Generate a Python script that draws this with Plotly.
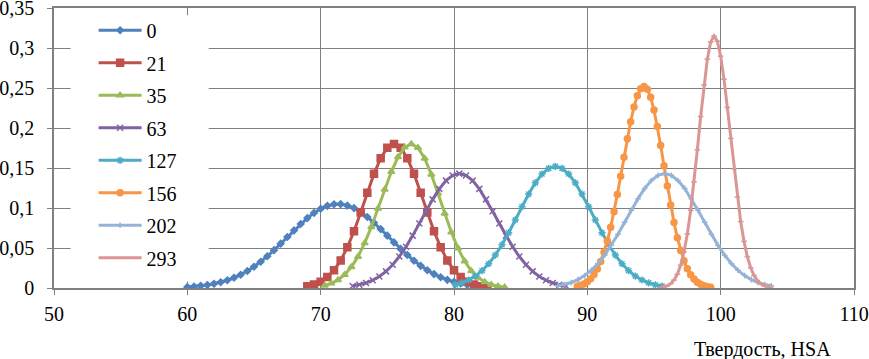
import plotly.graph_objects as go

# ---------------- data ----------------
names = ["0", "21", "35", "63", "127", "156", "202", "293"]

x_0 = [60, 60.5, 61, 61.5, 62, 62.5, 63, 63.5, 64, 64.5, 65, 65.5, 66, 66.5, 67, 67.5,
       68, 68.5, 69, 69.5, 70, 70.5, 71, 71.5, 72, 72.5, 73, 73.5, 74, 74.5, 75, 75.5,
       76, 76.5, 77, 77.5, 78, 78.5, 79, 79.5, 80, 80.5, 81, 81.5, 82, 82.5]
y_0 = [0.0013, 0.0019, 0.0027, 0.0038, 0.0053, 0.0072, 0.0097, 0.0128, 0.0166, 0.0212,
       0.0266, 0.0328, 0.0397, 0.0473, 0.0554, 0.0637, 0.0720, 0.0800, 0.0874, 0.0939,
       0.0990, 0.1027, 0.1047, 0.1049, 0.1032, 0.0999, 0.0950, 0.0888, 0.0816, 0.0736,
       0.0654, 0.0570, 0.0489, 0.0412, 0.0341, 0.0277, 0.0222, 0.0174, 0.0135, 0.0102,
       0.0076, 0.0056, 0.0040, 0.0029, 0.0020, 0.0014]

x_21 = [69, 69.5, 70, 70.5, 71, 71.5, 72, 72.5, 73, 73.5, 74, 74.5, 75, 75.5, 76, 76.5,
        77, 77.5, 78, 78.5, 79, 79.5, 80, 80.5, 81, 81.5, 82, 82.5]
y_21 = [0.0023, 0.0044, 0.0079, 0.0136, 0.0222, 0.0345, 0.0508, 0.0710, 0.0944, 0.1191,
        0.1427, 0.1623, 0.1754, 0.1800, 0.1754, 0.1623, 0.1427, 0.1191, 0.0944, 0.0710,
        0.0508, 0.0345, 0.0222, 0.0136, 0.0079, 0.0044, 0.0023, 0.0011]

x_35 = [70.3, 70.8, 71.3, 71.8, 72.3, 72.8, 73.3, 73.8, 74.3, 74.8, 75.3, 75.8, 76.3, 76.8,
        77.3, 77.8, 78.3, 78.8, 79.3, 79.8, 80.3, 80.8, 81.3, 81.8, 82.3, 82.8, 83.3, 83.8]
y_35 = [0.0032, 0.0058, 0.0101, 0.0166, 0.0262, 0.0392, 0.0561, 0.0764, 0.0993, 0.1230,
        0.1453, 0.1637, 0.1758, 0.1800, 0.1753, 0.1620, 0.1420, 0.1182, 0.0932, 0.0698,
        0.0496, 0.0334, 0.0213, 0.0130, 0.0075, 0.0041, 0.0021, 0.0010]

x_63 = [72.4, 72.9, 73.4, 73.9, 74.4, 74.9, 75.4, 75.9, 76.4, 76.9, 77.4, 77.9, 78.4, 78.9,
        79.4, 79.9, 80.4, 80.9, 81.4, 81.9, 82.4, 82.9, 83.4, 83.9, 84.4, 84.9, 85.4, 85.9,
        86.4, 86.9, 87.4, 87.9, 88.4]
y_63 = [0.0024, 0.0040, 0.0063, 0.0097, 0.0144, 0.0208, 0.0290, 0.0393, 0.0515, 0.0655,
        0.0806, 0.0960, 0.1108, 0.1239, 0.1342, 0.1407, 0.1430, 0.1407, 0.1342, 0.1239,
        0.1108, 0.0960, 0.0806, 0.0655, 0.0515, 0.0393, 0.0290, 0.0208, 0.0144, 0.0097,
        0.0063, 0.0040, 0.0024]

x_127 = [80.1, 80.6, 81.1, 81.6, 82.1, 82.6, 83.1, 83.6, 84.1, 84.6, 85.1, 85.6, 86.1, 86.6,
         87.1, 87.6, 88.1, 88.6, 89.1, 89.6, 90.1, 90.6, 91.1, 91.6, 92.1, 92.6, 93.1, 93.6,
         94.1, 94.6, 95.1, 95.6]
y_127 = [0.0040, 0.0064, 0.0100, 0.0149, 0.0216, 0.0303, 0.0412, 0.0541, 0.0690, 0.0851,
         0.1016, 0.1174, 0.1315, 0.1425, 0.1496, 0.1520, 0.1496, 0.1425, 0.1315, 0.1174,
         0.1016, 0.0851, 0.0690, 0.0541, 0.0412, 0.0303, 0.0216, 0.0149, 0.0100, 0.0064,
         0.0040, 0.0024]

x_156 = [89.25, 89.5, 89.75, 90, 90.25, 90.5, 90.75, 91, 91.25, 91.5, 91.75, 92, 92.25, 92.5,
         92.75, 93, 93.25, 93.5, 93.75, 94, 94.25, 94.5, 94.75, 95, 95.25, 95.5, 95.75, 96,
         96.25, 96.5, 96.75, 97, 97.25, 97.5, 97.75, 98, 98.25, 98.5, 98.75, 99, 99.25]
y_156 = [0.0021, 0.0033, 0.0051, 0.0078, 0.0116, 0.0169, 0.0239, 0.0331, 0.0447, 0.0589,
         0.0758, 0.0952, 0.1168, 0.1398, 0.1635, 0.1866, 0.2079, 0.2262, 0.2402, 0.2490,
         0.2520, 0.2485, 0.2384, 0.2224, 0.2018, 0.1781, 0.1528, 0.1276, 0.1036, 0.0818,
         0.0628, 0.0469, 0.0341, 0.0241, 0.0166, 0.0111, 0.0072, 0.0046, 0.0028, 0.0017,
         0.0010]

x_202 = [87.8, 88.3, 88.8, 89.3, 89.8, 90.3, 90.8, 91.3, 91.8, 92.3, 92.8, 93.3, 93.8, 94.3,
         94.8, 95.3, 95.8, 96.3, 96.8, 97.3, 97.8, 98.3, 98.8, 99.3, 99.8, 100.3, 100.8,
         101.3, 101.8, 102.3, 102.8, 103.3, 103.8]
y_202 = [0.0027, 0.0044, 0.0069, 0.0105, 0.0155, 0.0221, 0.0306, 0.0410, 0.0533, 0.0671,
         0.0821, 0.0972, 0.1117, 0.1245, 0.1344, 0.1408, 0.1430, 0.1408, 0.1344, 0.1245,
         0.1117, 0.0972, 0.0821, 0.0671, 0.0533, 0.0410, 0.0306, 0.0221, 0.0155, 0.0105,
         0.0069, 0.0044, 0.0027]

x_293 = [95.5, 95.75, 96, 96.25, 96.5, 96.75, 97, 97.25, 97.5, 97.75, 98, 98.25, 98.5, 98.75,
         99, 99.25, 99.5, 99.75, 100, 100.25, 100.5, 100.75, 101, 101.25, 101.5, 101.75,
         102, 102.25, 102.5, 102.75, 103, 103.25, 103.5, 103.75]
y_293 = [0.0007, 0.0014, 0.0028, 0.0054, 0.0099, 0.0172, 0.0285, 0.0450, 0.0676, 0.0970,
         0.1326, 0.1727, 0.2144, 0.2537, 0.2861, 0.3075, 0.3150, 0.3085, 0.2898, 0.2611,
         0.2257, 0.1871, 0.1488, 0.1135, 0.0830, 0.0583, 0.0392, 0.0253, 0.0157, 0.0093,
         0.0053, 0.0029, 0.0015, 0.0008]

xs = [x_0, x_21, x_35, x_63, x_127, x_156, x_202, x_293]
ys = [y_0, y_21, y_35, y_63, y_127, y_156, y_202, y_293]

x_ticks = [50, 60, 70, 80, 90, 100, 110]
y_ticks = [0, 0.05, 0.1, 0.15, 0.2, 0.25, 0.3, 0.35]
x_title = "Твердость, HSA"

# ---------------- styles ----------------
colors = ["#4F81BD", "#C0504D", "#9BBB59", "#8064A2", "#4BACC6", "#F79646", "#95B3D7", "#D99694"]
symbols = ["diamond", "square", "triangle-up", "x-thin-open", "asterisk-open",
           "circle", "cross-thin-open", "line-ew-open"]
msizes = [5, 7, 6, 6, 6, 6, 4, 4]

FONT = "Liberation Serif"
GRID = "#808080"

fig = go.Figure()
for i, name in enumerate(names):
    fig.add_trace(go.Scatter(
        x=xs[i], y=ys[i], name=name, mode="lines+markers",
        legendgroup="g" + name,
        line=dict(color=colors[i], width=3),
        marker=dict(symbol=symbols[i], size=msizes[i], color=colors[i],
                    line=dict(color=colors[i], width=1.5)),
    ))

# white background behind the legend (hides grid lines there, like the reference)
fig.add_shape(type="rect", xref="x", yref="y", layer="between",
              x0=51.24, x1=61.6, y0=0.008, y1=0.341,
              fillcolor="white", line=dict(width=0))

fig.add_annotation(text=x_title, xref="paper", yref="paper", x=0.974, y=-0.218,
                   xanchor="right", yanchor="middle", showarrow=False,
                   font=dict(family=FONT, size=20, color="black"))

axis_common = dict(showgrid=True, gridcolor=GRID, gridwidth=1,
                   showline=True, linecolor=GRID, linewidth=1.5, mirror=True,
                   ticks="outside", ticklen=5, tickcolor=GRID, zeroline=False,
                   ticklabeloverflow="allow", automargin=False,
                   tickfont=dict(family=FONT, size=20, color="black"))

fig.update_layout(
    width=869, height=359,
    margin=dict(l=54, r=15, t=8, b=71),
    paper_bgcolor="white", plot_bgcolor="white",
    separators=", ",
    font=dict(family=FONT, size=20, color="black"),
    showlegend=True,
    legend=dict(x=0.0495, y=0.99, xanchor="left", yanchor="top",
                bgcolor="rgba(0,0,0,0)", borderwidth=0,
                tracegroupgap=3.5, itemwidth=43,
                font=dict(family=FONT, size=20, color="black")),
    xaxis=dict(range=[50, 110], tickvals=x_ticks, ticklabelstandoff=2, **axis_common),
    yaxis=dict(range=[0, 0.35], tickvals=y_ticks, ticklabelstandoff=9, **axis_common),
)

fig.write_html("out.html", config={"displayModeBar": False},
               post_script="document.body.style.margin='0';document.body.style.overflow='hidden';")
